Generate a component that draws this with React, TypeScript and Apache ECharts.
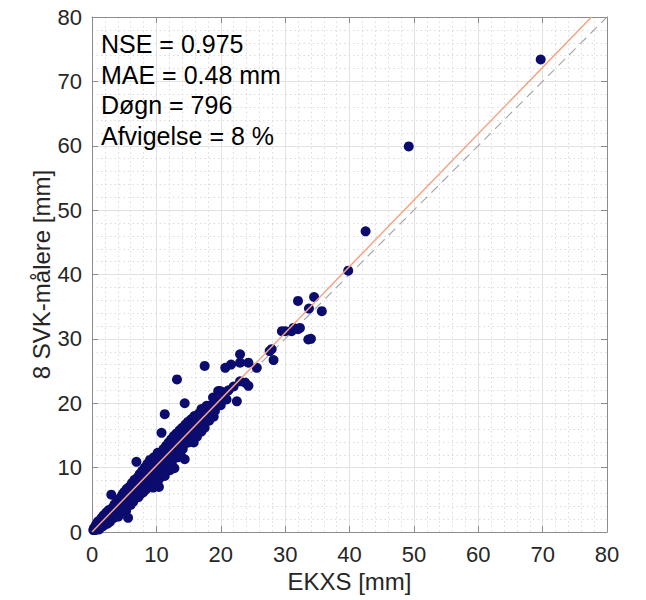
import React, { useEffect, useRef } from "react";
import * as echarts from "echarts";

// Axis ranges and ticks (mm)
const axisMin = 0;
const axisMax = 80;
const axisStep = 10;

// Annotation lines shown in the upper-left corner
const statLines = ["NSE = 0.975", "MAE = 0.48 mm", "Døgn = 796", "Afvigelse = 8 %"];

// Slope of the fitted regression line through the origin
const fitSlope = 1.031;

// Daily precipitation pairs: [EKXS, 8 SVK-målere] (mm) — dense band near the 1:1 line
const denseCloud: [number, number][] = [
  [0.2, 0.3], [0.3, 0.6], [0.5, 0.3], [0.6, 1.1], [0.8, 0.6], [0.9, 1.6], [1.0, 0.9], [1.1, 0.4],
  [1.2, 1.8], [1.3, 1.2], [1.4, 0.8], [1.5, 2.2], [1.6, 1.5], [1.7, 0.9], [1.8, 2.6], [1.9, 1.7],
  [2.0, 1.2], [2.1, 2.4], [2.2, 3.0], [2.3, 1.8], [2.4, 1.3], [2.5, 2.6], [2.6, 3.4], [2.7, 2.1],
  [2.8, 1.6], [2.9, 3.1], [3.0, 2.5], [3.2, 3.8], [3.3, 2.9], [3.4, 2.2], [3.5, 4.3], [3.6, 3.3],
  [3.7, 2.6], [3.8, 4.0], [3.9, 4.9], [4.0, 3.2], [4.1, 2.4], [4.2, 4.5], [4.3, 3.7], [4.4, 5.3],
  [4.5, 4.0], [4.6, 3.1], [4.7, 5.8], [4.8, 4.7], [4.9, 3.6], [5.0, 6.2], [5.1, 5.0], [5.2, 4.1],
  [5.3, 3.3], [5.4, 6.7], [5.5, 5.6], [5.7, 4.6], [5.8, 7.0], [5.9, 5.9], [6.0, 4.2], [6.1, 6.6],
  [6.2, 7.6], [6.3, 5.3], [6.4, 4.7], [6.5, 6.9], [6.6, 8.1], [6.7, 5.8], [6.8, 7.4], [7.0, 6.3],
  [7.1, 8.5], [7.2, 5.4], [7.3, 7.7], [7.4, 9.0], [7.5, 6.7], [7.6, 5.9], [7.7, 8.2], [7.8, 9.5],
  [7.9, 7.2], [8.0, 6.2], [8.1, 8.7], [8.2, 10.0], [8.3, 7.6], [8.4, 6.6], [8.5, 9.3], [8.6, 10.6],
  [8.7, 8.1], [8.8, 7.1], [8.9, 9.8], [9.0, 11.2], [9.1, 8.6], [9.2, 7.5], [9.3, 10.3], [9.4, 9.2],
  [9.6, 11.6], [9.7, 8.4], [9.8, 10.8], [9.9, 9.6], [10.0, 7.9], [10.1, 11.3], [10.2, 12.3],
  [10.3, 9.1], [10.4, 8.2], [10.5, 10.7], [10.6, 12.0], [10.7, 9.8], [10.9, 11.5], [11.0, 8.8],
  [11.1, 12.9], [11.2, 10.4], [11.4, 11.9], [11.5, 13.4], [11.6, 9.9], [11.7, 12.4], [11.8, 10.9],
  [11.9, 13.9], [12.0, 11.4], [12.1, 9.6], [12.2, 12.8], [12.3, 14.4], [12.4, 10.8], [12.5, 13.3],
  [12.6, 11.9], [12.7, 14.9], [12.8, 9.9], [12.9, 12.6], [13.0, 13.8], [13.1, 15.3], [13.3, 11.6],
  [13.4, 14.1], [13.5, 12.7], [13.6, 15.8], [13.7, 13.2], [13.8, 11.9], [13.9, 14.6], [14.0, 16.2],
  [14.1, 12.9], [14.2, 15.0], [14.3, 13.6], [14.5, 16.7], [14.6, 14.2], [14.7, 14.4], [14.8, 15.6],
  [14.9, 17.1], [15.0, 13.9], [15.2, 16.1], [15.3, 14.6], [15.4, 17.5], [15.5, 15.3], [15.7, 16.6],
  [15.8, 13.9], [15.9, 18.0], [16.0, 15.4], [16.2, 17.1], [16.3, 14.8], [16.5, 16.3], [16.6, 18.4],
  [16.8, 17.2], [17.0, 15.6], [17.2, 16.7], [17.4, 18.2], [17.5, 16.2], [17.6, 17.9], [17.8, 19.6],
  [18.0, 18.3], [18.1, 18.3], [18.2, 17.3], [18.5, 18.8], [18.9, 17.9], [19.1, 18.8], [19.1, 19.4],
  [19.3, 20.3], [20.0, 19.7], [20.2, 20.6],
];

// Daily pairs lying away from the band, and the few large events
const scatteredDays: [number, number][] = [
  [3.0, 5.8], [5.6, 2.2], [6.9, 10.9], [9.5, 6.9], [10.4, 7.0], [10.8, 15.4], [11.3, 8.7],
  [11.3, 18.3], [13.2, 23.7], [14.4, 11.3], [14.4, 20.0], [17.0, 19.1], [17.5, 25.8], [18.3, 19.6],
  [18.8, 20.9], [19.6, 21.9], [19.9, 21.9], [20.4, 21.7], [20.7, 25.5], [20.9, 20.6], [21.2, 22.0],
  [21.6, 26.0], [22.0, 22.6], [22.5, 20.3], [23.0, 26.3], [23.0, 27.6], [23.0, 23.4], [23.8, 23.2],
  [24.3, 22.7], [24.3, 26.3], [25.6, 25.5], [27.6, 28.1], [27.9, 28.4], [28.2, 26.7], [29.5, 31.2],
  [30.0, 31.2], [31.0, 31.2], [31.3, 31.7], [32.0, 31.5], [32.0, 35.9], [32.3, 31.7], [33.6, 29.9],
  [33.7, 34.7], [34.0, 30.0], [34.5, 36.5], [35.7, 34.3], [39.8, 40.6], [42.5, 46.7], [49.2, 59.9],
  [69.7, 73.4],
];

const FONT = '"Liberation Sans", Arial, Helvetica, sans-serif';
const FRAME = "#8c8c8c";
const TEXT = "#262626";

export default function App() {
  const ref = useRef<HTMLDivElement>(null);

  useEffect(() => {
    document.body.style.margin = "0";
    document.body.style.overflow = "hidden";
    if (!ref.current) return;
    const chart = echarts.init(ref.current, undefined, { renderer: "svg" });

    const gridLeft = 92;
    const gridTop = 17;
    const gridSize = 515;

    const baseAxis = {
      type: "value",
      min: axisMin,
      max: axisMax,
      interval: axisStep,
      axisLine: { show: true, onZero: false, lineStyle: { color: FRAME, width: 1 } },
      axisTick: { show: true, inside: true, length: 6, lineStyle: { color: FRAME, width: 1 } },
    };

    const mainAxis = (name: string, gap: number, margin: number) => ({
      ...baseAxis,
      name,
      nameLocation: "middle",
      nameGap: gap,
      nameTextStyle: { fontSize: 24, color: TEXT, fontFamily: FONT },
      axisLabel: { fontSize: 22, color: TEXT, margin, fontFamily: FONT },
      splitLine: { show: true, lineStyle: { color: "#e2e2e2", width: 1 } },
      minorTick: { show: false, splitNumber: 5 },
      minorSplitLine: { show: true, lineStyle: { color: "#dcdcdc", width: 1, type: [1.5, 3] } },
    });

    const mirrorAxis = (position: string) => ({
      ...baseAxis,
      position,
      axisLabel: { show: false },
      splitLine: { show: false },
    });

    chart.setOption({
      animation: false,
      grid: {
        left: gridLeft,
        top: gridTop,
        width: gridSize,
        height: gridSize,
        containLabel: false,
        outerBoundsMode: "none",
      },
      xAxis: [
        { ...mainAxis("EKXS [mm]", 35, 11), position: "bottom" },
        mirrorAxis("top"),
      ],
      yAxis: [
        { ...mainAxis("8 SVK-målere [mm]", 39, 10), position: "left", nameMoveOverlap: false },
        mirrorAxis("right"),
      ],
      series: [
        {
          type: "line",
          name: "1:1",
          data: [[axisMin, axisMin], [axisMax, axisMax]],
          symbol: "none",
          lineStyle: { color: "#a8a8a8", width: 1.2, type: [9, 6] },
          z: 1,
          silent: true,
        },
        {
          type: "scatter",
          name: "Døgn",
          data: [...denseCloud, ...scatteredDays],
          symbolSize: 10,
          itemStyle: { color: "#0b0c6e", opacity: 1 },
          z: 2,
        },
        {
          type: "line",
          name: "Fit",
          data: [[axisMin, axisMin], [axisMax / fitSlope, axisMax]],
          symbol: "none",
          lineStyle: { color: "#f7a382", width: 1.5 },
          z: 3,
          silent: true,
        },
      ],
      graphic: statLines.map((line, i) => ({
        type: "text",
        x: 101,
        y: 44 + i * 30.5,
        style: {
          text: line,
          font: `25px ${FONT}`,
          fill: "#000000",
          verticalAlign: "middle",
          textVerticalAlign: "middle",
        },
        z: 10,
      })),
    });

    return () => chart.dispose();
  }, []);

  return <div ref={ref} style={{ width: 646, height: 600 }} />;
}
